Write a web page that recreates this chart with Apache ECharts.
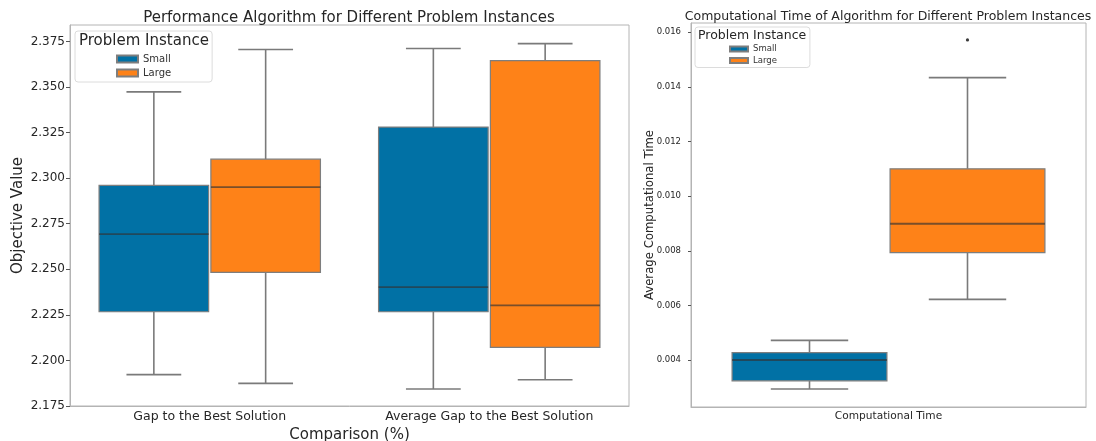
<!DOCTYPE html>
<html>
<head>
<meta charset="utf-8">
<script src="https://cdn.jsdelivr.net/npm/echarts@6/dist/echarts.min.js"></script>
<style>html,body{margin:0;padding:0;background:#fff;}#c{width:1096px;height:441px;}</style>
</head>
<body>
<div id="c"></div>
<script>
// ---- data ----
const leftCategories = ['Gap to the Best Solution', 'Average Gap to the Best Solution'];
// [min, Q1, median, Q3, max]
const leftSmall = [[2.1922, 2.2267, 2.2693, 2.2960, 2.3473], [2.1843, 2.2267, 2.2402, 2.3280, 2.3711]];
const leftLarge = [[2.1874, 2.2483, 2.2951, 2.3104, 2.3706], [2.1894, 2.2072, 2.2302, 2.3645, 2.3738]];
const leftTicks = [2.175, 2.200, 2.225, 2.250, 2.275, 2.300, 2.325, 2.350, 2.375];

const rightCategories = ['Computational Time'];
const rightSmall = [[0.00294, 0.00324, 0.00400, 0.00427, 0.00472]];
const rightLarge = [[0.00622, 0.00793, 0.00899, 0.01100, 0.01434]];
const rightLargeOutliers = [0.01572];
const rightTicks = [0.004, 0.006, 0.008, 0.010, 0.012, 0.014, 0.016];

const hues = ['Small', 'Large'];
const BLUE = '#0171a5', ORANGE = '#fe8218';
const LINE = '#7a7a7a', MED = 'rgba(50,50,50,0.65)', EDGE = '#7e7e7e';
const FONT = 'DejaVu Sans';
const TXT = '#262626';

const chart = echarts.init(document.getElementById('c'));

function rows(stats) {
  return stats.map((s, i) => [i].concat(s));
}

function boxRender(hueIdx, color) {
  return function (params, api) {
    const cat = api.value(0);
    const bw = api.size([1, 0])[0];
    const slot = bw * 0.8 / hues.length;
    const off = (hueIdx - (hues.length - 1) / 2) * slot;
    const w = slot * 0.98;
    const pMin = api.coord([cat, api.value(1)]);
    const pQ1 = api.coord([cat, api.value(2)]);
    const pMed = api.coord([cat, api.value(3)]);
    const pQ3 = api.coord([cat, api.value(4)]);
    const pMax = api.coord([cat, api.value(5)]);
    const cx = pMin[0] + off;
    const x0 = cx - w / 2, x1 = cx + w / 2;
    const cw = w * 0.25;
    const ls = { stroke: LINE, lineWidth: 1.6 };
    return {
      type: 'group',
      children: [
        { type: 'line', shape: { x1: cx, y1: pQ1[1], x2: cx, y2: pMin[1] }, style: ls },
        { type: 'line', shape: { x1: cx, y1: pQ3[1], x2: cx, y2: pMax[1] }, style: ls },
        { type: 'line', shape: { x1: cx - cw, y1: pMin[1], x2: cx + cw, y2: pMin[1] }, style: ls },
        { type: 'line', shape: { x1: cx - cw, y1: pMax[1], x2: cx + cw, y2: pMax[1] }, style: ls },
        { type: 'rect', shape: { x: x0, y: pQ3[1], width: w, height: pQ1[1] - pQ3[1] },
          style: { fill: color, stroke: EDGE, lineWidth: 1.2 } },
        { type: 'line', shape: { x1: x0, y1: pMed[1], x2: x1, y2: pMed[1] }, style: { stroke: MED, lineWidth: 1.8 } }
      ]
    };
  };
}

function outlierRender(hueIdx) {
  return function (params, api) {
    const cat = api.value(0);
    const bw = api.size([1, 0])[0];
    const slot = bw * 0.8 / hues.length;
    const off = (hueIdx - (hues.length - 1) / 2) * slot;
    const p = api.coord([cat, api.value(1)]);
    return { type: 'circle', shape: { cx: p[0] + off, cy: p[1], r: 1.6 }, style: { fill: '#3a3a3a' } };
  };
}

function boxSeries(name, stats, hueIdx, color, axisIdx) {
  return {
    type: 'custom', name: name, xAxisIndex: axisIdx, yAxisIndex: axisIdx,
    data: rows(stats),
    encode: { x: 0, y: [1, 2, 3, 4, 5] },
    itemStyle: { color: color, borderColor: EDGE, borderWidth: 0.8 },
    renderItem: boxRender(hueIdx, color),
    z: 3
  };
}

const axisLineStyle = { color: '#b4b4b4', width: 1 };

const option = {
  backgroundColor: '#fff',
  animation: false,
  textStyle: { fontFamily: FONT },
  title: [
    { text: 'Performance Algorithm for Different Problem Instances', left: 349, top: 11, textAlign: 'center', padding: 0,
      textStyle: { fontFamily: FONT, fontSize: 15, fontWeight: 'normal', color: TXT } },
    { text: 'Computational Time of Algorithm for Different Problem Instances', left: 888, top: 10, textAlign: 'center', padding: 0,
      textStyle: { fontFamily: FONT, fontSize: 12.5, fontWeight: 'normal', color: TXT } }
  ],
  grid: [
    { left: 70, top: 25, right: 467, bottom: 35, show: true, borderColor: '#b4b4b4', borderWidth: 1,
      backgroundColor: 'transparent', outerBoundsMode: 'none', containLabel: false },
    { left: 691, top: 23, right: 10, bottom: 34, show: true, borderColor: '#b4b4b4', borderWidth: 1,
      backgroundColor: 'transparent', outerBoundsMode: 'none', containLabel: false }
  ],
  legend: [
    { data: hues, orient: 'vertical', left: 75, top: 31, padding: [22, 41, 3, 41],
      itemWidth: 21, itemHeight: 7, itemGap: 2, icon: 'rect',
      backgroundColor: '#fff', borderColor: '#dcdcdc', borderWidth: 1, borderRadius: 3,
      textStyle: { fontFamily: FONT, fontSize: 10, color: '#333', lineHeight: 12 },
      selectedMode: false },
    { data: hues, orient: 'vertical', left: 695, top: 27, padding: [17, 33, 2, 34],
      itemWidth: 18, itemHeight: 5, itemGap: 1.5, icon: 'rect',
      backgroundColor: '#fff', borderColor: '#dcdcdc', borderWidth: 1, borderRadius: 3,
      textStyle: { fontFamily: FONT, fontSize: 8.5, color: '#333', lineHeight: 10 },
      selectedMode: false }
  ],
  graphic: [
    { type: 'text', left: 79, top: 34, z: 100,
      style: { text: 'Problem Instance', font: '15px "DejaVu Sans"', fill: TXT } },
    { type: 'text', left: 698, top: 29, z: 100,
      style: { text: 'Problem Instance', font: '12.5px "DejaVu Sans"', fill: TXT } }
  ],
  xAxis: [
    { type: 'category', gridIndex: 0, data: leftCategories,
      name: 'Comparison (%)', nameLocation: 'middle', nameGap: 18,
      nameTextStyle: { fontFamily: FONT, fontSize: 15, color: TXT },
      axisLine: { lineStyle: axisLineStyle },
      axisTick: { alignWithLabel: true, length: 4, lineStyle: { color: '#555' } },
      axisLabel: { fontFamily: FONT, fontSize: 12.5, color: TXT, margin: 4 },
      splitLine: { show: false } },
    { type: 'category', gridIndex: 1, data: rightCategories,
      axisLine: { lineStyle: axisLineStyle },
      axisTick: { alignWithLabel: true, length: 3, lineStyle: { color: '#555' } },
      axisLabel: { fontFamily: FONT, fontSize: 10.6, color: TXT, margin: 4 },
      splitLine: { show: false } }
  ],
  yAxis: [
    { type: 'value', gridIndex: 0, min: 2.175, max: 2.384,
      name: 'Objective Value', nameLocation: 'middle', nameGap: 44, nameMoveOverlap: false,
      nameTextStyle: { fontFamily: FONT, fontSize: 15, color: TXT },
      axisLine: { show: true, lineStyle: axisLineStyle },
      axisTick: { show: true, length: 4, lineStyle: { color: '#555' }, customValues: leftTicks },
      axisLabel: { fontFamily: FONT, fontSize: 12, color: TXT, margin: 5, customValues: leftTicks,
        formatter: v => v.toFixed(3) },
      splitLine: { show: false } },
    { type: 'value', gridIndex: 1, min: 0.00228, max: 0.01634,
      name: 'Average Computational Time', nameLocation: 'middle', nameGap: 35, nameMoveOverlap: false,
      nameTextStyle: { fontFamily: FONT, fontSize: 11.7, color: TXT },
      axisLine: { show: true, lineStyle: axisLineStyle },
      axisTick: { show: true, length: 3, lineStyle: { color: '#555' }, customValues: rightTicks },
      axisLabel: { fontFamily: FONT, fontSize: 8.5, color: TXT, margin: 10, customValues: rightTicks,
        formatter: v => v.toFixed(3) },
      splitLine: { show: false } }
  ],
  series: [
    boxSeries('Small', leftSmall, 0, BLUE, 0),
    boxSeries('Large', leftLarge, 1, ORANGE, 0),
    boxSeries('Small', rightSmall, 0, BLUE, 1),
    boxSeries('Large', rightLarge, 1, ORANGE, 1),
    { type: 'custom', name: 'Large outliers', xAxisIndex: 1, yAxisIndex: 1,
      data: rightLargeOutliers.map(v => [0, v]), encode: { x: 0, y: 1 },
      renderItem: outlierRender(1), z: 4 }
  ]
};
chart.setOption(option);
</script>
</body>
</html>
